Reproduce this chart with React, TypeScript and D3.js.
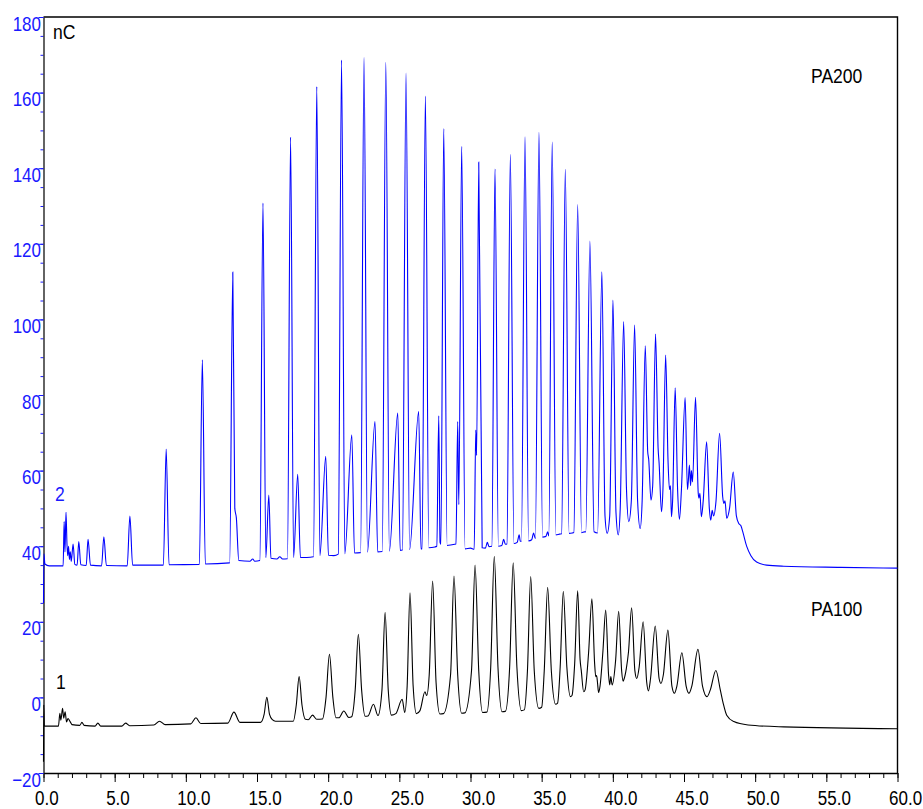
import React, { useEffect, useRef } from 'react';
import * as d3 from 'd3';

type Pt = [number, number];

// retention time (min), signal (nC) – apexes, feet and valleys
const pa200Early: Pt[] = [
  [0, 25], [0.03, 38], [0.1, 35.3], [0.4, 34.8], [1.38, 34.8], [1.45, 46.5], [1.51, 38.5],
  [1.58, 49], [1.65, 40.5], [1.7, 37.5], [1.76, 40], [1.82, 36.5], [1.88, 38.5], [1.95, 36],
  [2.08, 40.6], [2.2, 35.2], [2.36, 35], [2.48, 41.2], [2.62, 35.1], [3.0, 34.9], [3.13, 41.8],
  [3.3, 35], [4.08, 34.8], [4.24, 42.5], [4.42, 34.9], [5.88, 34.8], [6.07, 48], [6.26, 35],
  [8.42, 35], [8.62, 65.7], [8.82, 35.1], [10.95, 35.2], [11.16, 89.3], [11.37, 35.3],
];

const pa200Mid: Pt[] = [
  [13.08, 35.6], [13.3, 112.5], [13.44, 50], [13.55, 47.5], [13.72, 36.2], [14.5, 36],
  [14.7, 36.6], [14.85, 36], [15.2, 36.2], [15.42, 130.8], [15.62, 37], [15.83, 53.5],
  [15.98, 36.8], [16.4, 36.6], [16.6, 37.2], [16.8, 36.6], [17.14, 36.7], [17.36, 148.2],
  [17.57, 37], [17.86, 59], [18.05, 37], [18.5, 37], [18.97, 37.2], [19.2, 161.6],
  [19.42, 37.5], [19.83, 63.8], [20.02, 37.6], [20.4, 37.5], [20.71, 37.9], [20.94, 168.6],
  [21.17, 38], [21.66, 69.5], [21.85, 38.2], [22.28, 38.3], [22.52, 169.3], [22.76, 38.4],
  [23.29, 73], [23.48, 38.5], [23.8, 38.6], [24.05, 168], [24.3, 38.7], [24.89, 75.2],
  [25.06, 38.9], [25.22, 39], [25.47, 165.2], [25.72, 39.1], [26.36, 75.6], [26.52, 39.3],
  [26.6, 39.3], [26.83, 159.1], [27.07, 39.6], [27.5, 39.8], [27.63, 40], [27.77, 74.5],
  [27.86, 41], [27.92, 40.5], [28.12, 150.5], [28.36, 40.2], [28.7, 40.4], [28.98, 40.6],
  [29.1, 73], [29.18, 51], [29.38, 145.8], [29.62, 39.3], [30.0, 39.5], [30.26, 39.2],
  [30.37, 70.7], [30.43, 64], [30.58, 141.6],
];

const pa200Late: Pt[] = [
  [30.82, 39.6], [31.05, 39.5], [31.18, 41], [31.3, 39.9], [31.5, 40], [31.72, 139.8],
  [31.96, 40], [32.2, 40.2], [32.33, 41.8], [32.45, 40.5], [32.56, 40.6], [32.8, 143.7],
  [33.05, 40.7], [33.28, 41], [33.42, 43], [33.5, 41.3], [33.58, 41.3], [33.83, 148.3],
  [34.08, 41.4], [34.3, 41.7], [34.43, 43.5], [34.56, 42], [34.81, 149.5], [35.06, 42.4],
  [35.3, 42.6], [35.42, 43.8], [35.5, 42.7], [35.74, 146.9], [36.0, 43], [36.25, 43.2],
  [36.4, 43.3], [36.66, 139.7], [36.93, 43.4], [37.15, 43.5], [37.26, 43.6], [37.53, 130.4],
  [37.8, 43.6], [38.0, 43.8], [38.1, 43.8], [38.39, 120.7], [38.68, 43.8], [38.93, 43.5],
  [39.23, 112.6], [39.45, 48], [39.6, 43.4], [39.78, 48], [40.01, 105.1], [40.22, 49],
  [40.38, 43], [40.52, 50], [40.76, 99.4], [40.96, 55], [41.12, 46.5], [41.3, 52],
  [41.53, 98.5], [41.74, 52], [41.92, 44.7], [42.06, 52], [42.28, 93], [42.45, 65],
  [42.52, 63], [42.68, 52.2], [42.8, 56], [43.0, 96.1], [43.18, 66], [43.25, 62],
  [43.42, 49.1], [43.52, 55], [43.71, 90.6], [43.88, 62.4], [43.98, 55], [44.05, 56],
  [44.12, 47.8], [44.2, 52], [44.38, 81.9], [44.55, 55], [44.68, 47.1], [44.82, 55],
  [45.08, 79.3], [45.24, 55], [45.3, 57.1], [45.38, 61.5], [45.46, 56], [45.52, 60],
  [45.6, 57], [45.81, 79.4], [46.0, 54], [46.05, 52.7], [46.12, 54], [46.22, 47.8],
  [46.35, 52], [46.59, 67.6], [46.78, 50], [46.88, 46.9], [46.98, 49.5], [47.08, 48],
  [47.25, 52], [47.5, 69.9], [47.72, 53], [47.8, 51.3], [47.88, 52], [48.0, 47.4],
  [48.2, 50], [48.46, 59.6], [48.68, 48], [48.85, 46], [49.0, 45.4], [49.15, 43.5],
  [49.4, 40], [49.7, 37.5], [50.1, 35.8], [50.8, 35], [52, 34.7], [56, 34.4], [60, 34.2],
];

// same for the PA100 trace
const pa100Early: Pt[] = [
  [0, -17], [0.02, -2], [0.06, -7.6], [1.05, -7.6], [1.15, -4.2], [1.22, -6], [1.34, -2.9],
  [1.42, -5.5], [1.52, -3.8], [1.62, -6.5], [1.72, -5.6], [1.87, -6.4], [2.0, -7.2],
  [2.55, -7.4], [2.7, -6.6], [2.85, -7.4], [3.62, -7.6], [3.82, -6.8], [4.02, -7.6],
  [5.5, -7.6], [5.77, -6.8], [6.05, -7.5], [7.75, -7.3], [8.15, -6.3], [8.55, -7.2],
  [10.35, -7.0], [10.71, -5.4], [11.05, -6.9], [12.95, -6.8], [13.38, -3.9], [13.8, -6.6],
  [15.25, -6.6],
];

const pa100Ladder: Pt[] = [
  [15.5, -4.5], [15.69, 0], [15.88, -4.5], [16.08, -5.9], [16.3, -6.3], [17.55, -6.3],
  [17.76, -2], [17.96, 5.5], [18.16, -2], [18.4, -5.8], [18.6, -5.9], [18.9, -4.7],
  [19.2, -5.8], [19.6, -5.7], [19.85, 0], [20.09, 11.4], [20.33, 0], [20.55, -5.4],
  [20.75, -5.4], [21.1, -3.6], [21.45, -5.3], [21.65, -5.1], [21.9, 2], [22.12, 16.7],
  [22.35, 2], [22.6, -5.0], [22.8, -4.9], [23.18, -1.8], [23.5, -4.8], [23.78, 2],
  [24.0, 22.5], [24.22, 2], [24.45, -4.7], [24.75, -4.3], [25.2, -0.5], [25.38, -4.0],
  [25.55, 3], [25.75, 27.7], [25.97, 3], [26.2, -4.3], [26.45, -3.5], [26.8, 1.5],
  [26.92, 0.5], [27.1, 6], [27.34, 30.8], [27.58, 4], [27.85, -4.4], [28.1, -4.3],
  [28.6, 6], [28.84, 32.1], [29.1, 6], [29.38, -4.2], [29.6, -4.1], [30.07, 7],
  [30.32, 35.0], [30.58, 7], [30.85, -4.0], [31.15, -3.9], [31.42, 8], [31.67, 37.3],
  [31.93, 8], [32.22, -3.8], [32.45, -3.7], [32.75, 8], [33.0, 35.6], [33.26, 8],
  [33.58, -3.5], [33.78, -3.3], [34.0, 7], [34.23, 32.0], [34.48, 7], [34.8, -2.9],
  [35.0, -2.6], [35.18, 7], [35.42, 29.1], [35.68, 7], [35.98, -1.8], [36.12, -1.5],
  [36.3, 8], [36.52, 28.1], [36.77, 8], [37.02, 0.2],
];

const pa100Late: Pt[] = [
  [37.13, 0.5], [37.32, 9], [37.53, 28.2], [37.7, 10], [37.78, 7.2], [37.95, 1.5],
  [38.05, 2], [38.3, 12], [38.53, 26.1], [38.72, 9], [38.8, 5.5], [38.86, 5.8], [38.92, 4],
  [39.0, 1.3], [39.1, 3], [39.3, 12], [39.5, 23.1], [39.7, 6], [39.78, 3.3], [39.86, 5.5],
  [39.95, 3.3], [40.2, 10], [40.41, 22.8], [40.62, 7], [40.72, 4.3], [40.8, 5], [40.95, 7.7],
  [41.1, 12], [41.32, 23.7], [41.55, 7], [41.68, 5.0], [41.85, 8], [42.13, 20.0], [42.38, 4],
  [42.5, 1.7], [42.65, 5], [42.98, 18.9], [43.25, 5], [43.38, 3.7], [43.55, 6], [43.87, 17.8],
  [44.15, 3], [44.33, 1.1], [44.5, 3], [44.85, 11.8], [45.15, 3], [45.35, 1.1], [45.55, 3],
  [45.98, 12.7], [46.3, 3], [46.62, 0.2], [46.85, 2], [47.24, 7.1], [47.55, 2], [47.75, -1.5],
  [48.0, -4.7], [48.5, -6.4], [49.5, -7.3], [52, -7.8], [60, -8.3],
];

const xTicks = [0, 5, 10, 15, 20, 25, 30, 35, 40, 45, 50, 55, 60];
const yTicks = [-20, 0, 20, 40, 60, 80, 100, 120, 140, 160, 180];

// no narrow face installed, so the glyphs get squeezed horizontally
const FONT = "'Liberation Sans', Arial, sans-serif";
const TICK_SQUEEZE = 0.81;
const LABEL_SQUEEZE = 0.9;

const App = () => {
  const svgRef = useRef<SVGSVGElement>(null);

  useEffect(() => {
    const width = 923;
    const height = 809;

    const svg = d3.select(svgRef.current);
    svg.selectAll('*').remove();
    svg.attr('width', width).attr('height', height);

    const x = d3.scaleLinear().domain([0, 60]).range([43.5, 897.5]);
    const y = d3.scaleLinear().domain([-20, 180]).range([773, 17]);

    // frame (top + right)
    svg.append('path')
      .attr('d', `M${x(0)},${y(180)}H${x(60)}V${y(-20)}`)
      .attr('fill', 'none')
      .attr('stroke', '#000')
      .attr('stroke-width', 1.4);

    // minor ticks
    svg.append('g')
      .attr('transform', `translate(0,${y(-20)})`)
      .call(d3.axisBottom(x).tickValues(d3.range(0, 61, 1)).tickSize(5).tickSizeOuter(0).tickFormat(() => ''))
      .call((g) => g.select('.domain').remove())
      .call((g) => g.selectAll('line').attr('stroke', '#000'));

    svg.append('g')
      .attr('transform', `translate(${x(0)},0)`)
      .call(d3.axisLeft(y).tickValues(d3.range(-20, 181, 5)).tickSize(3).tickSizeOuter(0).tickFormat(() => ''))
      .call((g) => g.select('.domain').remove())
      .call((g) => g.selectAll('line').attr('stroke', '#1a1aff'));

    // X axis
    const xAxis = svg.append('g')
      .attr('transform', `translate(0,${y(-20)})`)
      .call(d3.axisBottom(x).tickValues(xTicks).tickSize(9).tickSizeOuter(0).tickFormat(d3.format('.1f')));
    xAxis.select('.domain').attr('stroke', '#000').attr('stroke-width', 1.4);
    xAxis.selectAll('line').attr('stroke', '#000');
    xAxis.selectAll('text')
      .attr('y', 32)
      .attr('dy', null)
      .attr('x', -9 / TICK_SQUEEZE)
      .attr('transform', `scale(${TICK_SQUEEZE},1)`)
      .attr('text-anchor', 'start')
      .attr('fill', '#000')
      .style('font-family', FONT)
      .style('font-size', '21px');

    // Y axis
    const yAxis = svg.append('g')
      .attr('transform', `translate(${x(0)},0)`)
      .call(d3.axisLeft(y).tickValues(yTicks).tickSize(5).tickSizeOuter(0));
    yAxis.select('.domain').attr('stroke', '#222').attr('stroke-width', 1.4);
    yAxis.selectAll('line').attr('stroke', '#1a1aff');
    yAxis.selectAll('text')
      .attr('x', -2.5 / TICK_SQUEEZE)
      .attr('y', 13)
      .attr('dy', null)
      .attr('transform', `scale(${TICK_SQUEEZE},1)`)
      .attr('text-anchor', 'end')
      .attr('fill', '#1a1aff')
      .style('font-family', FONT)
      .style('font-size', '21px');

    const line = d3.line<Pt>()
      .x((d) => x(d[0]))
      .y((d) => y(d[1]))
      .curve(d3.curveMonotoneX);

    // PA100 trace
    svg.append('path')
      .datum([...pa100Early, ...pa100Ladder, ...pa100Late])
      .attr('fill', 'none')
      .attr('stroke', '#000')
      .attr('stroke-width', 1.1)
      .attr('d', line);

    // PA200 trace
    svg.append('path')
      .datum([...pa200Early, ...pa200Mid, ...pa200Late])
      .attr('fill', 'none')
      .attr('stroke', '#0000ff')
      .attr('stroke-width', 1.1)
      .attr('d', line);

    // labels
    const label = (tx: number, ty: number, txt: string, color: string) =>
      svg.append('text')
        .attr('transform', `translate(${tx},${ty}) scale(${LABEL_SQUEEZE},1)`)
        .attr('fill', color)
        .style('font-family', FONT)
        .style('font-size', '19.5px')
        .text(txt);

    label(53, 39, 'nC', '#000');
    label(811, 83, 'PA200', '#000');
    label(811, 616, 'PA100', '#000');
    label(55, 501, '2', '#1a1aff');
    label(56, 689, '1', '#000');
  }, []);

  return (
    <div style={{ position: 'absolute', left: 0, top: 0 }}>
      <svg ref={svgRef} style={{ display: 'block' }}></svg>
    </div>
  );
};

export default App;
